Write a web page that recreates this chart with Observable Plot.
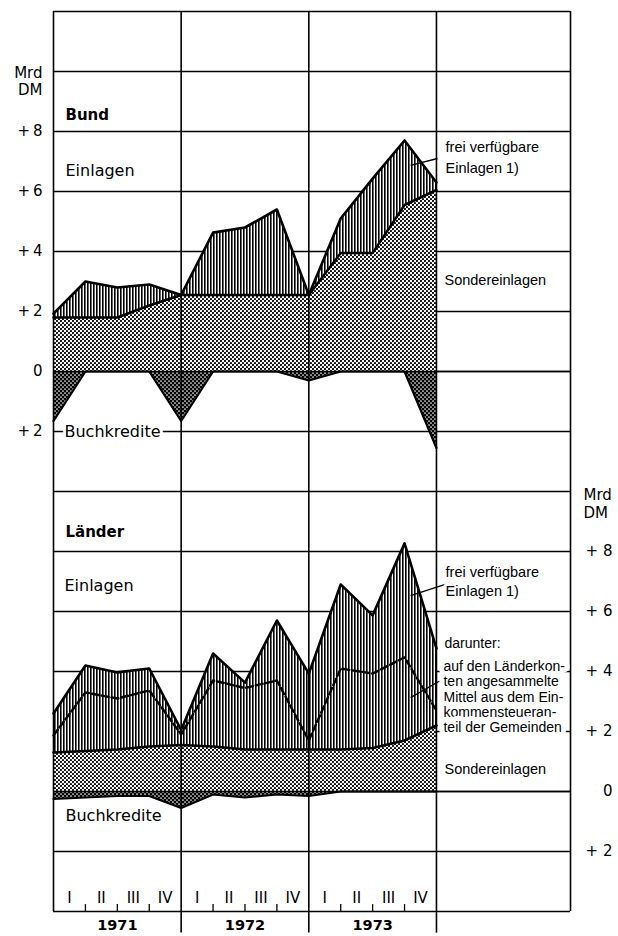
<!DOCTYPE html>
<html><head><meta charset="utf-8">
<script src="https://cdn.jsdelivr.net/npm/d3@7"></script>
<script src="https://cdn.jsdelivr.net/npm/@observablehq/plot@0.6"></script>
<style>
html,body{margin:0;padding:0;background:#fff;}
#chart svg{display:block;}
</style></head>
<body>
<svg width="0" height="0" style="position:absolute">
<defs>
<pattern id="pSonder" width="4" height="4" patternUnits="userSpaceOnUse">
<rect width="4" height="4" fill="#fff"/>
<circle cx="1" cy="1" r="1.1" fill="#000"/>
<circle cx="3" cy="3" r="1.1" fill="#000"/>
</pattern>
<pattern id="pKredit" width="4" height="4" patternUnits="userSpaceOnUse">
<rect width="4" height="4" fill="#000"/>
<circle cx="1" cy="1" r="0.85" fill="#fff"/>
<circle cx="3" cy="3" r="0.85" fill="#fff"/>
</pattern>
<pattern id="pFrei" width="3" height="3" patternUnits="userSpaceOnUse">
<rect width="3" height="3" fill="#fff"/>
<rect width="1.6" height="3" fill="#000"/>
</pattern>
</defs></svg>
<div id="chart"></div>
<script>
// Quarter-end dates (end of 1970 ... end of 1973)
const quarterEnds = [1971.0, 1971.25, 1971.5, 1971.75, 1972.0, 1972.25, 1972.5, 1972.75, 1973.0, 1973.25, 1973.5, 1973.75, 1974.0];
// Bund: total Einlagen (Sonder + frei verfügbar), Sondereinlagen, Buchkredite (Mrd DM)
const bundEinlagen = [1.93, 3.0, 2.8, 2.9, 2.55, 4.63, 4.8, 5.4, 2.55, 5.1, 6.43, 7.7, 6.3];
const bundSonder   = [1.8, 1.8, 1.8, 2.2, 2.55, 2.55, 2.55, 2.55, 2.55, 3.95, 3.95, 5.55, 6.05];
const bundKredite  = [1.65, 0, 0, 0, 1.65, 0, 0, 0, 0.3, 0, 0, 0, 2.55];
// Länder: total Einlagen, level of "darunter" line, Sondereinlagen, Buchkredite (Mrd DM)
const laenderEinlagen = [2.6, 4.2, 3.97, 4.1, 2.05, 4.6, 3.63, 5.7, 3.93, 6.9, 5.87, 8.27, 4.77];
const laenderDarunter = [1.87, 3.3, 3.1, 3.37, 1.9, 3.7, 3.45, 3.7, 1.7, 4.1, 3.93, 4.47, 2.7];
const laenderSonder   = [1.3, 1.35, 1.4, 1.5, 1.55, 1.5, 1.4, 1.4, 1.4, 1.4, 1.45, 1.7, 2.2];
const laenderKredite  = [0.25, 0.2, 0.15, 0.15, 0.55, 0.1, 0.2, 0.1, 0.15, 0, 0, 0, 0];
// Axis labels
const years = [1971, 1972, 1973];
const quarterNames = ["I", "II", "III", "IV"];
const bundTicks = [8, 6, 4, 2, 0, -2];
const laenderTicks = [8, 6, 4, 2, 0, -2];

const sans = "'DejaVu Sans', sans-serif";
const helv = "'Liberation Sans', Arial, sans-serif";
const X = {domain: [1971, 1975.05], axis: null};
const frameX = [1971, 1972, 1973, 1974, 1975.05];

const bund = quarterEnds.map((t, i) => ({t, einlagen: bundEinlagen[i], sonder: bundSonder[i], kredit: -bundKredite[i]}));
const laender = quarterEnds.map((t, i) => ({t, einlagen: laenderEinlagen[i], darunter: laenderDarunter[i], sonder: laenderSonder[i], kredit: -laenderKredite[i]}));

const fmtL = d => d > 0 ? "+\u2009" + d : d < 0 ? "+\u2009" + (-d) : "0";
const fmtR = d => d > 0 ? "+ " + d : d < 0 ? "+ " + (-d) : "0";

function label(s, t, v, o = {}) {
  return Plot.text([{t, v, s}], Object.assign({x: "t", y: "v", text: "s", textAnchor: "start", lineAnchor: "bottom", fill: "black"}, o));
}
const halo = {stroke: "white", strokeWidth: 6, paintOrder: "stroke"};
const bigHalo = {stroke: "white", strokeWidth: 10, paintOrder: "stroke"};

const chart1 = Plot.plot({
  width: 618, height: 461, marginLeft: 53, marginRight: 48, marginTop: 11, marginBottom: 0,
  x: X, y: {domain: [-3, 12], axis: null},
  style: {fontFamily: sans, background: "white", color: "black"},
  marks: [
    Plot.ruleY([-2, 0, 2, 4, 6, 8, 10], {stroke: "black", strokeWidth: 1.4}),
    Plot.ruleY([12], {stroke: "black", strokeWidth: 1.7}),
    Plot.areaY(bund, {x: "t", y1: 0, y2: "sonder", fill: "url(#pSonder)"}),
    Plot.areaY(bund, {x: "t", y1: "sonder", y2: "einlagen", fill: "url(#pFrei)"}),
    Plot.areaY(bund, {x: "t", y1: 0, y2: "kredit", fill: "url(#pKredit)"}),
    Plot.ruleX(frameX, {stroke: "black", strokeWidth: 1.6}),
    Plot.ruleY([0], {stroke: "black", strokeWidth: 1.4}),
    Plot.line(bund, {x: "t", y: "sonder", stroke: "black", strokeWidth: 2.5}),
    Plot.line(bund, {x: "t", y: "einlagen", stroke: "black", strokeWidth: 2.6}),
    Plot.line(bund, {x: "t", y: "kredit", stroke: "black", strokeWidth: 2.2}),
    Plot.text(bundTicks, {y: d => d, text: fmtL, frameAnchor: "left", dx: -11, textAnchor: "end", fontSize: 15, fill: "black"}),
    Plot.text([9.23], {y: d => d, text: () => "Mrd\nDM", frameAnchor: "left", dx: -11, textAnchor: "end", lineAnchor: "bottom", lineHeight: 1.1, fontSize: 15, fill: "black"}),
    label("Bund", 1971.094, 8.37, {fontWeight: "bold", fontSize: 15}),
    label("Einlagen", 1971.094, 6.53, {fontSize: 16}),
    label("Buchkredite", 1971.086, -2, Object.assign({fontSize: 16, lineAnchor: "middle"}, halo)),
    Plot.link([{x1: 1974.008, y1: 7.1, x2: 1973.797, y2: 6.87}], {x1: "x1", y1: "y1", x2: "x2", y2: "y2", stroke: "black", strokeWidth: 1.3}),
    label("frei verfügbare\nEinlagen 1)", 1974.071, 6.63, Object.assign({fontFamily: helv, fontSize: 14.5, lineHeight: 1.4}, halo)),
    label("Sondereinlagen", 1974.063, 2.9, Object.assign({fontFamily: helv, fontSize: 14.5}, halo))
  ]
});

const quarterLabels = years.flatMap(y => quarterNames.map((q, i) => ({t: y + (i + 0.5) / 4, q})));
const quarterTicks = years.flatMap(y => [1, 2, 3].map(i => y + i / 4));

const chart2 = Plot.plot({
  width: 618, height: 475, marginLeft: 53, marginRight: 48, marginTop: 0, marginBottom: 25,
  x: X, y: {domain: [-4, 11], axis: null},
  style: {fontFamily: sans, background: "white", color: "black"},
  marks: [
    Plot.ruleY([-2, 0, 2, 4, 6, 8, 10], {stroke: "black", strokeWidth: 1.4}),
    Plot.ruleY([-4], {stroke: "black", strokeWidth: 1.7}),
    Plot.areaY(laender, {x: "t", y1: 0, y2: "sonder", fill: "url(#pSonder)"}),
    Plot.areaY(laender, {x: "t", y1: "sonder", y2: "einlagen", fill: "url(#pFrei)"}),
    Plot.areaY(laender, {x: "t", y1: 0, y2: "kredit", fill: "url(#pKredit)"}),
    Plot.ruleX(frameX, {stroke: "black", strokeWidth: 1.6}),
    Plot.ruleX([1972, 1973, 1974], {y1: -4, y2: -4.72, stroke: "black", strokeWidth: 1.6}),
    Plot.ruleX(quarterTicks, {y1: -4, y2: -3.77, stroke: "black", strokeWidth: 1.3}),
    Plot.ruleY([0], {stroke: "black", strokeWidth: 1.4}),
    Plot.line(laender, {x: "t", y: "darunter", stroke: "black", strokeWidth: 2.4, strokeDasharray: "7,3"}),
    Plot.line(laender, {x: "t", y: "sonder", stroke: "black", strokeWidth: 2.6}),
    Plot.line(laender, {x: "t", y: "einlagen", stroke: "black", strokeWidth: 2.6}),
    Plot.line(laender, {x: "t", y: "kredit", stroke: "black", strokeWidth: 2.2}),
    Plot.text(laenderTicks, {y: d => d, text: fmtR, frameAnchor: "right", dx: 42, textAnchor: "end", fontSize: 15, fill: "black"}),
    Plot.text([9.13], {y: d => d, text: () => "Mrd\nDM", frameAnchor: "right", dx: 13, textAnchor: "start", lineAnchor: "bottom", lineHeight: 1.15, fontSize: 15, fill: "black"}),
    Plot.text(quarterLabels, {x: "t", y: -3.73, text: "q", lineAnchor: "bottom", fontSize: 15, fill: "black"}),
    Plot.text(years, {x: d => d + 0.5, y: -4.62, text: d => String(d), lineAnchor: "bottom", fontSize: 14.5, fontWeight: "bold", fill: "black"}),
    label("Länder", 1971.094, 8.47, {fontWeight: "bold", fontSize: 15}),
    label("Einlagen", 1971.086, 6.67, {fontSize: 16}),
    label("Buchkredite", 1971.094, -0.97, {fontSize: 16}),
    Plot.link([{x1: 1974.087, y1: 6.93, x2: 1973.797, y2: 6.53}, {x1: 1974.032, y1: 3.7, x2: 1973.797, y2: 3.13}], {x1: "x1", y1: "y1", x2: "x2", y2: "y2", stroke: "black", strokeWidth: 1.3}),
    label("frei verfügbare\nEinlagen 1)", 1974.071, 6.53, Object.assign({fontFamily: helv, fontSize: 14.5, lineHeight: 1.25}, halo)),
    label("darunter:", 1974.063, 4.77, Object.assign({fontFamily: helv, fontSize: 14}, halo)),
    label("auf den Länderkon-\nten angesammelte\nMittel aus dem Ein-\nkommensteueran-\nteil der Gemeinden", 1974.055, 1.97, Object.assign({fontFamily: helv, fontSize: 14, lineHeight: 1.1}, bigHalo)),
    label("Sondereinlagen", 1974.063, 0.6, Object.assign({fontFamily: helv, fontSize: 14.5}, halo))
  ]
});

const root = document.getElementById("chart");
root.appendChild(chart1);
root.appendChild(chart2);
</script>
</body></html>
